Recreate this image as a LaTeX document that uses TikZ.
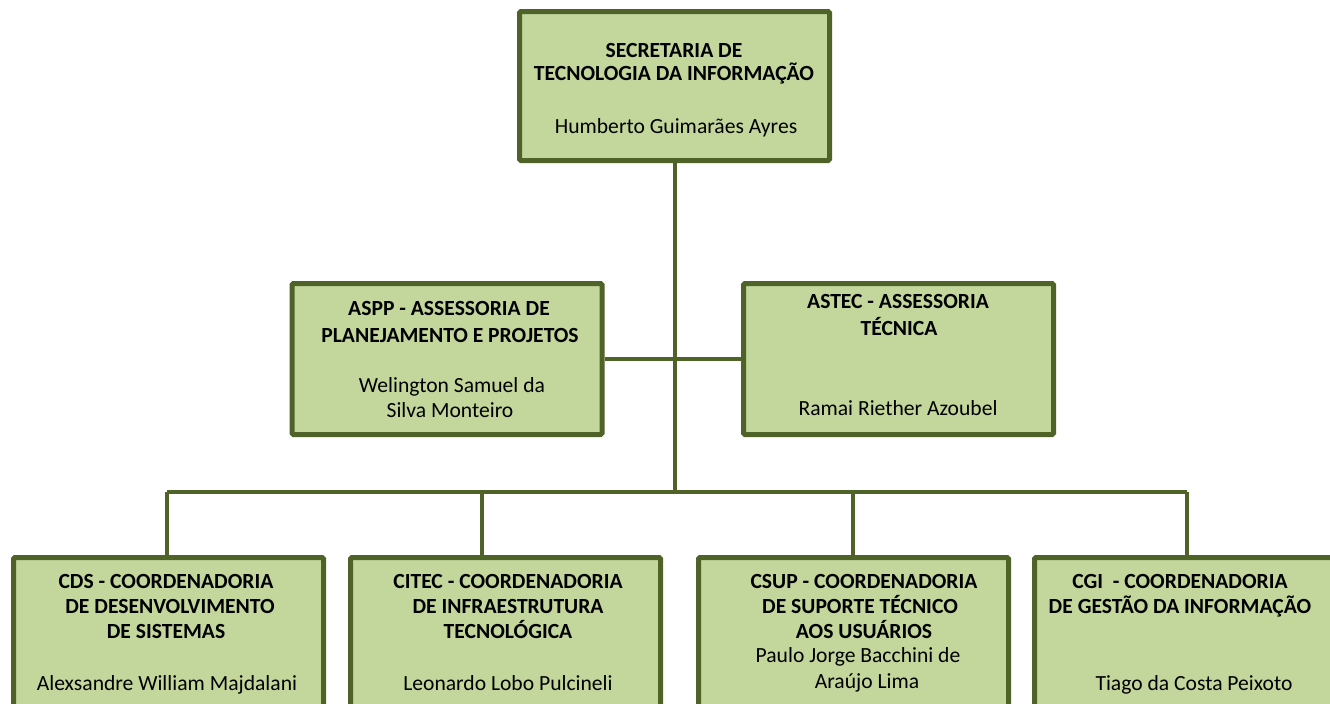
\documentclass[tikz,border=0pt]{standalone}
\usepackage{fontspec}
\setmainfont{Carlito}
\definecolor{boxfill}{HTML}{C3D69B}
\definecolor{boxline}{HTML}{4F6228}
\begin{document}
\begin{tikzpicture}[x=0.75pt,y=-0.75pt,
  box/.style={draw=boxline, fill=boxfill, line width=3.75pt, rounded corners=1pt,
    minimum width=232.5pt, minimum height=113.25pt, inner sep=0pt},
  wire/.style={draw=boxline, line width=3pt},
  tb/.style={font=\fontsize{16.2}{19}\selectfont\bfseries, anchor=base, inner sep=0pt},
  tn/.style={font=\fontsize{16.2}{19}\selectfont, anchor=base, inner sep=0pt}]
\useasboundingbox (0,0) rectangle (1330,703);
\fill[white] (0,0) rectangle (1330,703);
\clip (0,0) rectangle (1330,703);
% boxes
\node[box, minimum height=111.75pt] (top) at (674.5,86) {};
\node[box] (aspp) at (447,359) {};
\node[box] (astec) at (898.5,359) {};
\node[box] (cds) at (168.5,633) {};
\node[box] (citec) at (505.5,633) {};
\node[box] (csup) at (853.5,633) {};
\node[box] (cgi) at (1189.5,633) {};
% connectors
\coordinate (bL) at (167,492);
\coordinate (bR) at (1187,492);
\coordinate (d2) at (482,492);
\coordinate (d3) at (853,492);
\draw[wire] (top.south) -- (top.south |- bL);
\draw[wire] (aspp.east) -- (astec.west);
\draw[wire] (bL) -- (bR);
\draw[wire] (bL) -- (bL |- cds.north);
\draw[wire] (d2) -- (d2 |- citec.north);
\draw[wire] (d3) -- (d3 |- csup.north);
\draw[wire] (bR) -- (bR |- cgi.north);
% texts
\node[tb] (t1) at (674,57) {SECRETARIA DE};
\node[tb] (t2) at (674,80) {TECNOLOGIA DA INFORMAÇÃO};
\node[tn] (t3) at (676,133) {Humberto Guimarães Ayres};
\node[tb] (a1) at (449,315) {ASPP - ASSESSORIA DE};
\node[tb] (a2) at (450,342) {PLANEJAMENTO E PROJETOS};
\node[tn] (a3) at (452,392) {Welington Samuel da};
\node[tn] (a4) at (450,417) {Silva Monteiro};
\node[tb] (s1) at (898,308) {ASTEC - ASSESSORIA};
\node[tb] (s2) at (899,335) {TÉCNICA};
\node[tn] (s3) at (898,415) {Ramai Riether Azoubel};
\node[tb] (c1) at (166,588) {CDS - COORDENADORIA};
\node[tb] (c2) at (170,613) {DE DESENVOLVIMENTO};
\node[tb] (c3) at (166,638) {DE SISTEMAS};
\node[tn] (c4) at (167,690) {Alexsandre William Majdalani};
\node[tb] (i1) at (508,588) {CITEC - COORDENADORIA};
\node[tb] (i2) at (508,613) {DE INFRAESTRUTURA};
\node[tb] (i3) at (508,638) {TECNOLÓGICA};
\node[tn] (i4) at (508,690) {Leonardo Lobo Pulcineli};
\node[tb] (u1) at (864,588) {CSUP - COORDENADORIA};
\node[tb] (u2) at (860,613) {DE SUPORTE TÉCNICO};
\node[tb] (u3) at (864,638) {AOS USUÁRIOS};
\node[tn] (u4) at (858,662) {Paulo Jorge Bacchini de};
\node[tn] (u5) at (867,688) {Araújo Lima};
\node[tb] (g1) at (1180,588) {CGI\ \ - COORDENADORIA};
\node[tb] (g2) at (1180,613) {DE GESTÃO DA INFORMAÇÃO};
\node[tn] (g3) at (1194,690) {Tiago da Costa Peixoto};
\end{tikzpicture}
\end{document}
